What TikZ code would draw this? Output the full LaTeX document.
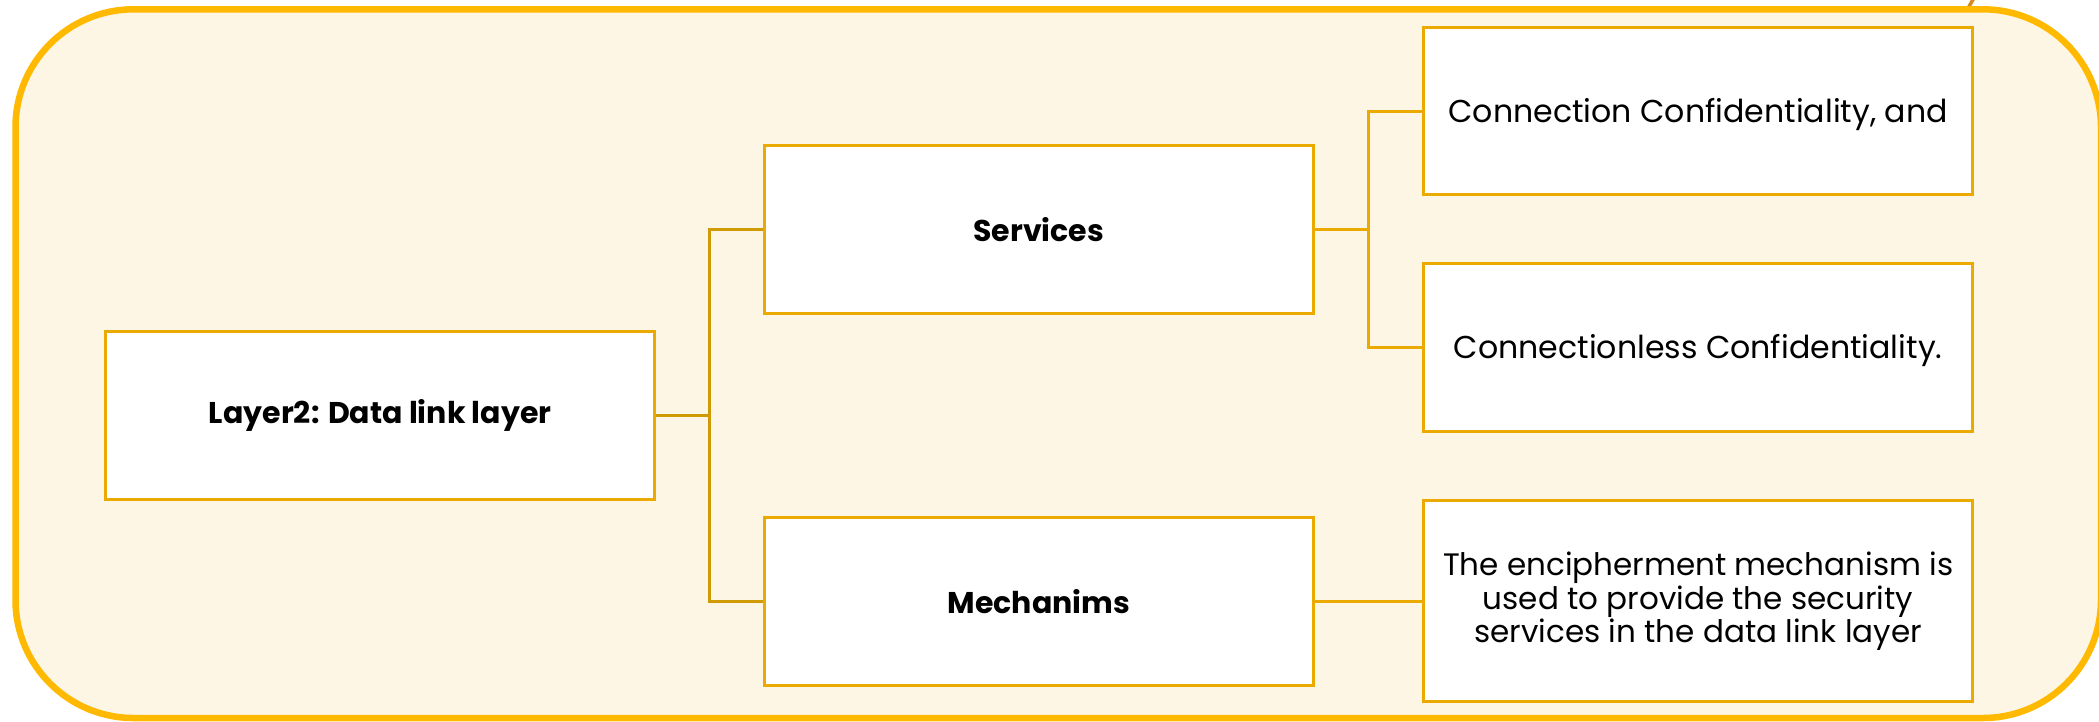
\documentclass[tikz,border=0pt]{standalone}
\usepackage{fontspec}
\setmainfont{Poppins}
\definecolor{frameGold}{HTML}{FFB900}
\definecolor{panelCream}{HTML}{FEF6E4}
\definecolor{boxGold}{HTML}{EAAA00}
\definecolor{linkDark}{HTML}{CF9A04}
\definecolor{stubOrange}{HTML}{D88A1E}
\tikzset{
  plainbox/.style={draw=boxGold, line width=3pt, fill=white, rectangle,
    minimum width=549pt, minimum height=167.5pt, inner sep=0pt, align=center},
  leafbox/.style={plainbox, font=\fontsize{31.6}{33.5}\selectfont,
    text height=30pt, text depth=8pt},
  headbox/.style={plainbox, font=\fontsize{30}{36}\selectfont\bfseries},
  linkL/.style={draw=linkDark, line width=3pt},
  linkR/.style={draw=boxGold, line width=3pt},
}
\begin{document}
\begin{tikzpicture}[x=1pt, y=-1pt]
  \fill[white] (0,0) rectangle (2099,721);
  \useasboundingbox (0,0) rectangle (2099,721);

  % short stroke leaving the top edge
  \coordinate (stubA) at (1967,10);
  \coordinate (stubB) at (1975,-4);
  \draw[stubOrange, line width=3.5pt] (stubA) -- (stubB);

  % outer panel
  \draw[frameGold, fill=panelCream, line width=6.5pt, rounded corners=118pt]
    (15.5,9.3) rectangle (2101,718);

  % boxes
  \node[headbox] (layer) at (380.2,415.7) {Layer2: Data link layer};
  \node[headbox] (serv)  at (1038.8,229.6) {Services};
  \node[headbox] (mech)  at (1038.8,601.7) {Mechanims};
  \node[leafbox] (conn)  at (1698.1,111.1) {Connection Confidentiality, and};
  \node[leafbox] (cless) at (1698.1,347.4) {Connectionless Confidentiality.};
  \node[leafbox, minimum height=201pt, text height=91pt,
        font=\fontsize{31}{33.5}\selectfont] (enc) at (1698.1,601.1)
    {The encipherment mechanism is\\used to provide the security\\services in the data link layer};

  % tree connectors
  \coordinate (forkL) at (709.5,415.7);
  \draw[linkL] (layer.east) -- (forkL);
  \draw[linkL] (serv.west) -| (forkL) |- (mech.west);

  \coordinate (forkR) at (1368,229.6);
  \draw[linkR] (serv.east) -- (forkR);
  \draw[linkR] (conn.west) -| (forkR) |- (cless.west);
  \draw[linkR] (mech.east) -- (enc.west |- mech.east);
\end{tikzpicture}
\end{document}
